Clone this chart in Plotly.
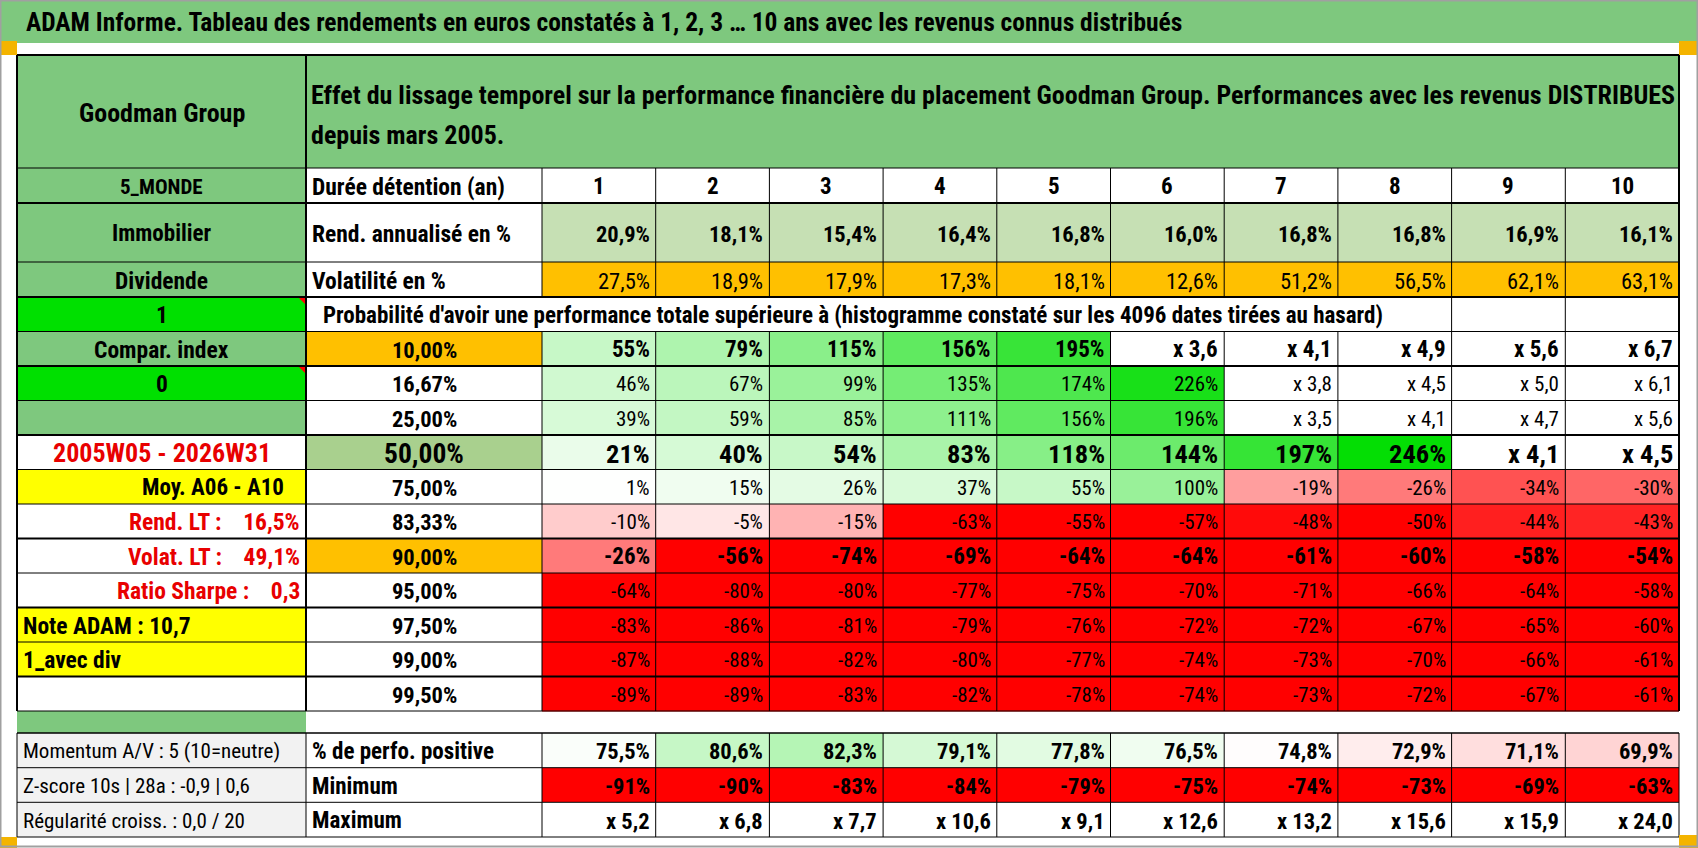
import plotly.graph_objects as go

# ---- data ----
TITLE = "ADAM Informe. Tableau des rendements en euros constatés à 1, 2, 3 … 10 ans avec les revenus connus distribués"
HEADER_1 = "Effet du lissage temporel sur la performance financière du placement Goodman Group. Performances avec les revenus DISTRIBUES"
HEADER_2 = "depuis mars 2005."
FUND = "Goodman Group"
PROBA_TITLE = "Probabilité d'avoir une performance totale supérieure à (histogramme constaté sur les 4096 dates tirées au hasard)"

top_left = ["5_MONDE", "Immobilier", "Dividende"]
top_mid = ["Durée détention (an)", "Rend. annualisé en %", "Volatilité en %"]
years = ["1", "2", "3", "4", "5", "6", "7", "8", "9", "10"]
rend_annualise = ["20,9%", "18,1%", "15,4%", "16,4%", "16,8%", "16,0%", "16,8%", "16,8%", "16,9%", "16,1%"]
volatilite = ["27,5%", "18,9%", "17,9%", "17,3%", "18,1%", "12,6%", "51,2%", "56,5%", "62,1%", "63,1%"]

side_labels = ["1", "Compar. index", "0", "", "2005W05 - 2026W31", "Moy. A06 - A10\u00a0\u00a0\u00a0",
               "Rend. LT :\u00a0\u00a0\u00a0\u00a016,5%", "Volat. LT :\u00a0\u00a0\u00a0\u00a049,1%",
               "Ratio Sharpe :\u00a0\u00a0\u00a0\u00a00,3", "Note ADAM : 10,7", "1_avec div", ""]
percentiles = ["10,00%", "16,67%", "25,00%", "50,00%", "75,00%", "83,33%",
               "90,00%", "95,00%", "97,50%", "99,00%", "99,50%"]

p10 = ["55%", "79%", "115%", "156%", "195%", "x 3,6", "x 4,1", "x 4,9", "x 5,6", "x 6,7"]
p16 = ["46%", "67%", "99%", "135%", "174%", "226%", "x 3,8", "x 4,5", "x 5,0", "x 6,1"]
p25 = ["39%", "59%", "85%", "111%", "156%", "196%", "x 3,5", "x 4,1", "x 4,7", "x 5,6"]
p50 = ["21%", "40%", "54%", "83%", "118%", "144%", "197%", "246%", "x 4,1", "x 4,5"]
p75 = ["1%", "15%", "26%", "37%", "55%", "100%", "-19%", "-26%", "-34%", "-30%"]
p83 = ["-10%", "-5%", "-15%", "-63%", "-55%", "-57%", "-48%", "-50%", "-44%", "-43%"]
p90 = ["-26%", "-56%", "-74%", "-69%", "-64%", "-64%", "-61%", "-60%", "-58%", "-54%"]
p95 = ["-64%", "-80%", "-80%", "-77%", "-75%", "-70%", "-71%", "-66%", "-64%", "-58%"]
p975 = ["-83%", "-86%", "-81%", "-79%", "-76%", "-72%", "-72%", "-67%", "-65%", "-60%"]
p99 = ["-87%", "-88%", "-82%", "-80%", "-77%", "-74%", "-73%", "-70%", "-66%", "-61%"]
p995 = ["-89%", "-89%", "-83%", "-82%", "-78%", "-74%", "-73%", "-72%", "-67%", "-61%"]
grid = [p10, p16, p25, p50, p75, p83, p90, p95, p975, p99, p995]

bottom_left = ["Momentum A/V : 5 (10=neutre)", "Z-score 10s | 28a : -0,9 | 0,6", "Régularité croiss. : 0,0 / 20"]
bottom_mid = ["% de perfo. positive", "Minimum", "Maximum"]
perf_positive = ["75,5%", "80,6%", "82,3%", "79,1%", "77,8%", "76,5%", "74,8%", "72,9%", "71,1%", "69,9%"]
minimum = ["-91%", "-90%", "-83%", "-84%", "-79%", "-75%", "-74%", "-73%", "-69%", "-63%"]
maximum = ["x 5,2", "x 6,8", "x 7,7", "x 10,6", "x 9,1", "x 12,6", "x 13,2", "x 15,6", "x 15,9", "x 24,0"]

# ---- styles / layout ----
FONT = "Roboto Condensed, Roboto, sans-serif"
GREEN = "#7EC87E"
BRIGHT = "#00E000"
ORANGE = "#FFC000"
OLIVE = "#A9D08E"
LIGHT = "#C6E0B4"
YELLOW = "#FFFF00"
GREY = "#F2F2F2"
RED_TXT = "#E80000"
W, H = 1698, 848

col_w = 113.7
xe = [17, 306, 542] + [542 + col_w * k for k in range(1, 11)]
top_edges = [55, 168, 203, 262, 297]
prob_edges = [297 + 34.5 * k for k in range(13)]
bot_edges = [733, 767.7, 802.3, 837]

side_fill = [BRIGHT, GREEN, BRIGHT, GREEN, "white", YELLOW, "white", "white", "white", YELLOW, YELLOW, "white"]
side_color = ["black"] * 4 + [RED_TXT, "black", RED_TXT, RED_TXT, RED_TXT, "black", "black", "black"]
side_align = ["c", "c", "c", "c", "c", "r", "r", "r", "r", "l", "l", "l"]
side_size = [23.5, 23.5, 23.5, 23.5, 26, 23, 23.5, 23.5, 23.5, 23.5, 23.5, 23.5]
pct_fill = [ORANGE, "white", "white", OLIVE, "white", "white", ORANGE, "white", "white", "white", "white"]
row_bold = [True, False, False, True, False, False, True, False, False, False, False]
row_size = [23, 21, 21, 26.5, 21, 21, 23, 21, 21, 21, 21]
pct_size = [22.5, 22.5, 22.5, 27.5, 22.5, 22.5, 22.5, 22.5, 22.5, 22.5, 22.5]
top_size = [21, 23, 23.5]

main_scale = [[0, "#FF0000"], [1 / 6, "#FFFFFF"], [1, "#00DD00"]]
pos_scale = [[0, "#FF0000"], [30 / 55, "#FFFFFF"], [1, "#00DD00"]]


def to_num(s):
    if s.startswith("x"):
        return None
    return float(s.replace("%", "").replace(",", "."))


shapes = []
annotations = []


def rect(x0, x1, y0, y1, fill):
    shapes.append(dict(type="rect", xref="x", yref="y", x0=x0, x1=x1, y0=y0, y1=y1,
                       fillcolor=fill, line=dict(width=0), layer="below"))


def line(x0, y0, x1, y1, w=1, color="black"):
    shapes.append(dict(type="line", xref="x", yref="y", x0=x0, y0=y0, x1=x1, y1=y1,
                       line=dict(color=color, width=w), layer="above"))


def txt(x, y, s, size, bold=False, color="black", anchor="center"):
    annotations.append(dict(x=x, y=y, xref="x", yref="y", text=s, showarrow=False,
                            xanchor=anchor, yanchor="middle",
                            font=dict(family=FONT, size=size, color=color,
                                      weight="bold" if bold else "normal")))


def cell_text(x0, x1, y0, y1, s, size, bold=False, color="black", align="c", pad=4):
    yc = (y0 + y1) / 2 + 1
    if align == "c":
        txt((x0 + x1) / 2, yc, s, size, bold, color, "center")
    elif align == "r":
        txt(x1 - pad, yc, s, size, bold, color, "right")
    else:
        txt(x0 + pad, yc, s, size, bold, color, "left")


# title bar
rect(0, W, 0, 43, GREEN)
txt(24, 22, TITLE, 25.5, True, anchor="left")

# header block
rect(xe[0], xe[1], top_edges[0], top_edges[1], GREEN)
rect(xe[1], xe[-1], top_edges[0], top_edges[1], GREEN)
txt((xe[0] + xe[1]) / 2, 113, FUND, 26, True)
txt(309, 95, HEADER_1, 26, True, anchor="left")
txt(309, 135, HEADER_2, 26, True, anchor="left")

# top rows
for i in range(3):
    y0, y1 = top_edges[i + 1], top_edges[i + 2]
    rect(xe[0], xe[1], y0, y1, GREEN)
    cell_text(xe[0], xe[1], y0, y1, top_left[i], top_size[i], True)
    cell_text(xe[1], xe[2], y0, y1, top_mid[i], 23.5, True, align="l", pad=4)
rect(xe[2], xe[-1], top_edges[2], top_edges[3], LIGHT)
rect(xe[2], xe[-1], top_edges[3], top_edges[4], ORANGE)
for j in range(10):
    x0, x1 = xe[j + 2], xe[j + 3]
    cell_text(x0, x1, top_edges[1], top_edges[2], years[j], 23, True)
    cell_text(x0, x1, top_edges[2], top_edges[3], rend_annualise[j], 22.5, True, align="r")
    cell_text(x0, x1, top_edges[3], top_edges[4], volatilite[j], 22.5, False, align="r")

# left column of the probability block
for i, lab in enumerate(side_labels):
    y0, y1 = prob_edges[i], prob_edges[i + 1]
    rect(xe[0], xe[1], y0, y1, side_fill[i])
    cell_text(xe[0], xe[1], y0, y1, lab, side_size[i], True, side_color[i], side_align[i], pad=4)

# comment markers
for i in (0, 2):
    y0 = prob_edges[i]
    shapes.append(dict(type="path", xref="x", yref="y",
                       path=f"M {xe[1] - 8},{y0} L {xe[1]},{y0} L {xe[1]},{y0 + 8} Z",
                       fillcolor="#FF0000", line=dict(width=0), layer="above"))

# probability header row
cell_text(xe[1], xe[10], prob_edges[0], prob_edges[1], PROBA_TITLE, 23, True, align="l", pad=15)

# percentile labels and values
for i, row in enumerate(grid):
    y0, y1 = prob_edges[i + 1], prob_edges[i + 2]
    rect(xe[1], xe[2], y0, y1, pct_fill[i])
    cell_text(xe[1], xe[2], y0, y1, percentiles[i], pct_size[i], True)
    for j, v in enumerate(row):
        cell_text(xe[j + 2], xe[j + 3], y0, y1, v, row_size[i], row_bold[i], align="r")

fig = go.Figure()
fig.add_trace(go.Heatmap(
    x=xe[2:], y=prob_edges[1:],
    z=[[to_num(v) for v in row] for row in grid],
    colorscale=main_scale, zmin=-50, zmax=250, showscale=False, hoverinfo="skip"))

# separator band and bottom block
rect(xe[0], xe[1], prob_edges[-1], bot_edges[0], GREEN)
for i in range(3):
    y0, y1 = bot_edges[i], bot_edges[i + 1]
    rect(xe[0], xe[1], y0, y1, GREY)
    cell_text(xe[0], xe[1], y0, y1, bottom_left[i], 21, False, align="l", pad=4)
    cell_text(xe[1], xe[2], y0, y1, bottom_mid[i], 23, True, align="l", pad=4)
for j in range(10):
    x0, x1 = xe[j + 2], xe[j + 3]
    for i, vals in enumerate([perf_positive, minimum, maximum]):
        cell_text(x0, x1, bot_edges[i], bot_edges[i + 1], vals[j], 22.5, True, align="r")

fig.add_trace(go.Heatmap(
    x=xe[2:], y=bot_edges[:2], z=[[to_num(v) for v in perf_positive]],
    colorscale=pos_scale, zmin=45, zmax=100, showscale=False, hoverinfo="skip"))
fig.add_trace(go.Heatmap(
    x=xe[2:], y=bot_edges[1:], z=[[to_num(v) for v in minimum], [to_num(v) for v in maximum]],
    colorscale=main_scale, zmin=-50, zmax=250, showscale=False, hoverinfo="skip"))

# grid lines
h_lines = [(top_edges[0], 2), (top_edges[1], 1), (top_edges[2], 2), (top_edges[3], 1), (top_edges[4], 2)]
prob_w = [1, 2, 1, 2, 1, 1, 2, 1, 2, 1, 2, 1]
for k, w in enumerate(prob_w):
    h_lines.append((prob_edges[k + 1], w))
for y, w in h_lines:
    line(xe[0], y, xe[-1], y, w)
for k, y in enumerate(bot_edges):
    line(xe[0], y, xe[-1], y, 1.5 if k == 0 else 1)

for k, x in enumerate(xe):
    if k in (0, 1, len(xe) - 1):
        line(x, top_edges[0], x, prob_edges[-1], 2)
    elif k >= 10:
        line(x, top_edges[1], x, prob_edges[-1], 1)
    else:
        line(x, top_edges[1], x, top_edges[4], 1)
        line(x, prob_edges[1], x, prob_edges[-1], 1)
    line(x, bot_edges[0], x, bot_edges[-1], 1)

# selection handles and sheet frame
for hx0, hx1, hy0, hy1 in [(0, 17, 41, 55), (1679, W, 41, 55), (0, 17, 837, H), (1679, W, 835, H)]:
    shapes.append(dict(type="rect", xref="x", yref="y", x0=hx0, x1=hx1, y0=hy0, y1=hy1,
                       fillcolor="#F4B400", line=dict(width=0), layer="above"))
shapes.append(dict(type="rect", xref="x", yref="y", x0=0.5, x1=W - 0.5, y0=0.5, y1=H - 1.5,
                   fillcolor="rgba(0,0,0,0)", line=dict(color="#A0A0A0", width=2), layer="above"))

fig.update_layout(
    width=W, height=H,
    margin=dict(l=0, r=0, t=0, b=0),
    paper_bgcolor="white", plot_bgcolor="white",
    xaxis=dict(range=[0, W], visible=False, fixedrange=True),
    yaxis=dict(range=[H, 0], visible=False, fixedrange=True),
    shapes=shapes, annotations=annotations, showlegend=False,
)
fig.write_html("out.html", config={"displayModeBar": False},
               post_script="document.body.style.margin='0px';document.body.style.overflow='hidden';")
